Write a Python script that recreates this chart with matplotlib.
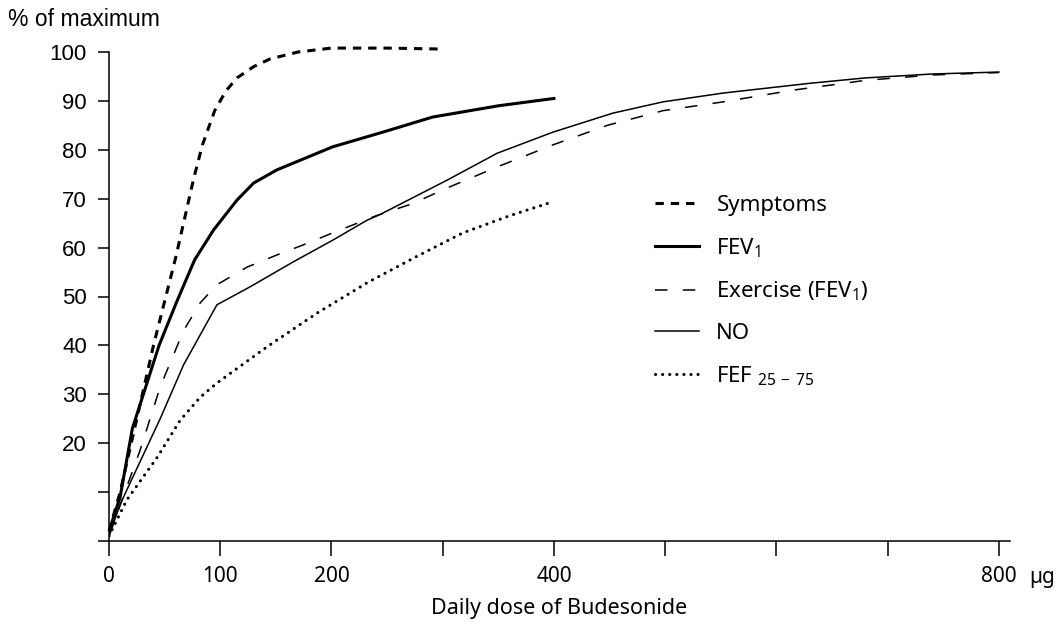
import matplotlib.pyplot as plt
from matplotlib.ticker import FixedLocator, FixedFormatter

plt.rcParams['mathtext.default'] = 'regular'
plt.rcParams['lines.scale_dashes'] = False

# daily dose (ug) and % of maximum
sym_dose = [0, 10, 20, 40, 50, 60, 68, 76, 84, 95, 105, 115, 130, 145, 170, 200, 250, 300]
sym_val = [2, 10, 20, 40, 49, 58, 66, 74, 81, 88, 92, 94.7, 97, 98.6, 100, 100.8, 100.8, 100.6]

fev_dose = [0, 10, 21, 45, 61, 77, 94, 115, 130, 151, 201, 246, 291, 350, 400]
fev_val = [2, 9, 23, 40, 49, 57.5, 63.6, 69.7, 73.2, 75.9, 80.6, 83.6, 86.7, 89, 90.5]

ex_dose = [0, 28, 46, 67, 82, 97, 124, 151, 174, 201, 240, 273, 304, 349, 399, 448, 498, 552, 615, 680, 740, 800]
ex_val = [1, 18.6, 31.5, 43, 48.7, 52.4, 56, 58.5, 60.5, 63, 66.5, 69, 72.2, 76.5, 81, 85, 88, 89.8, 92.2, 94.2, 95.3, 95.8]

no_dose = [0, 10, 46, 67, 97, 127, 165, 201, 232, 244, 304, 349, 399, 453, 498, 552, 630, 680, 740, 800]
no_val = [1, 7.5, 25, 36, 48.3, 52, 57, 61.5, 65.6, 66.8, 73.8, 79.3, 83.6, 87.5, 89.8, 91.6, 93.6, 94.7, 95.5, 95.9]

fef_dose = [0, 16, 43, 64, 82, 97, 142, 187, 232, 275, 318, 360, 398]
fef_val = [1, 8.4, 17, 24.7, 29.4, 32.3, 39.7, 46.6, 52.8, 58, 63, 66.5, 69.3]

x_ticks = [0, 100, 200, 300, 400, 500, 600, 700, 800]
x_labels = ['0', '100', '200', '', '400', '', '', '', '800']
y_ticks = [0, 10, 20, 30, 40, 50, 60, 70, 80, 90, 100]
y_labels = ['', '', '20', '30', '40', '50', '60', '70', '80', '90', '100']

fig = plt.figure(figsize=(10.63, 6.25), dpi=100)
ax = fig.add_axes([109/1063, 84/625, 901/1063, 489/625])

ax.plot(sym_dose, sym_val, color='k', lw=2.2, linestyle=(0, (6, 5)), label='Symptoms', clip_on=False)
ax.plot(fev_dose, fev_val, color='k', lw=2.2, label='FEV$_1$')
ax.plot(ex_dose, ex_val, color='k', lw=1.1, linestyle=(0, (9, 11)), label='Exercise (FEV$_1$)')
ax.plot(no_dose, no_val, color='k', lw=1.1, label='NO')
ax.plot(fef_dose, fef_val, color='k', lw=2.2, linestyle=(0, (0.1, 5)),
        dash_capstyle='round', label='FEF $_{25\\,-\\,75}$')

ax.set_xlim(0, 810)
ax.set_ylim(0, 100)
for s in ['top', 'right']:
  ax.spines[s].set_visible(False)
for s in ['left', 'bottom']:
  ax.spines[s].set_linewidth(1.1)

ax.xaxis.set_major_locator(FixedLocator(x_ticks))
ax.xaxis.set_major_formatter(FixedFormatter(x_labels))
ax.yaxis.set_major_locator(FixedLocator(y_ticks))
ax.yaxis.set_major_formatter(FixedFormatter(y_labels))

ax.tick_params(axis='x', length=11, width=1.1, pad=7)
ax.tick_params(axis='y', length=8, width=1.1, pad=8)
for t in ax.get_xticklabels():
  t.set_fontfamily('Noto Sans')
  t.set_fontsize(15)
for t in ax.get_yticklabels():
  t.set_fontfamily('Liberation Sans')
  t.set_fontsize(16)

ax.set_xlabel('Daily dose of Budesonide', fontfamily='Noto Sans', fontsize=15.5, labelpad=8)
fig.text(8/1063, 1 - 20/625, '% of maximum', fontfamily='Liberation Sans', fontsize=16.5,
         ha='left', va='center')
fig.text(1042/1063, 1 - 577/625, 'µg', fontfamily='Noto Sans', fontsize=15,
         ha='center', va='center')

leg = ax.legend(loc='upper left', bbox_to_anchor=(655/1063, 1 - 195/625),
                bbox_transform=fig.transFigure, frameon=False, borderpad=0,
                borderaxespad=0, handlelength=2.0, handletextpad=0.76,
                labelspacing=0.9, prop={'family': 'Noto Sans', 'size': 16})

fig.savefig('out.png', dpi=100)
